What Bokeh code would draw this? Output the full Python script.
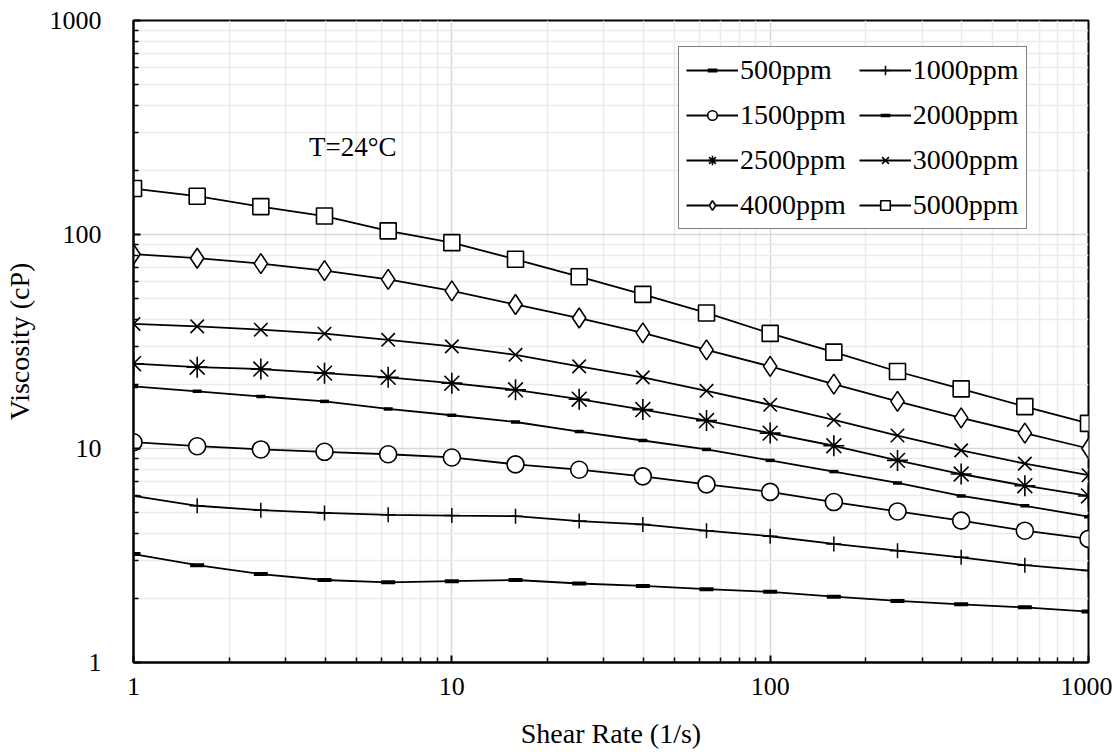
from bokeh.plotting import figure
from bokeh.models import Range1d, FixedTicker, NumeralTickFormatter, Legend, LegendItem, Label
from bokeh.embed import file_html
from bokeh.resources import INLINE

shear = [1, 1.585, 2.512, 3.981, 6.31, 10, 15.85, 25.12, 39.81, 63.1, 100, 158.5, 251.2, 398.1, 631, 1000]

v500 = [3.21, 2.85, 2.59, 2.43, 2.37, 2.40, 2.43, 2.34, 2.28, 2.20, 2.14, 2.03, 1.94, 1.87, 1.81, 1.73]
v1000 = [6.0, 5.4, 5.15, 5.0, 4.9, 4.86, 4.83, 4.58, 4.42, 4.13, 3.89, 3.58, 3.33, 3.10, 2.85, 2.69]
v1500 = [10.7, 10.25, 9.9, 9.65, 9.4, 9.08, 8.43, 7.96, 7.41, 6.80, 6.27, 5.62, 5.08, 4.60, 4.13, 3.78]
v2000 = [19.5, 18.5, 17.5, 16.6, 15.3, 14.3, 13.3, 12.0, 10.9, 9.9, 8.8, 7.8, 6.9, 6.0, 5.4, 4.8]
v2500 = [24.9, 24.0, 23.5, 22.5, 21.5, 20.2, 18.8, 17.0, 15.2, 13.5, 11.8, 10.3, 8.8, 7.6, 6.7, 6.0]
v3000 = [38.2, 37.2, 35.9, 34.4, 32.2, 30.0, 27.4, 24.2, 21.5, 18.6, 16.0, 13.6, 11.5, 9.8, 8.5, 7.5]
v4000 = [80.9, 77.5, 73.1, 67.8, 61.7, 54.5, 47.1, 40.7, 34.7, 28.9, 24.2, 20.0, 16.6, 13.9, 11.8, 10.0]
v5000 = [164, 151, 135, 122, 104, 91.6, 76.6, 63.5, 52.5, 43.0, 34.5, 28.2, 22.9, 19.0, 15.7, 13.1]

series_names = ["500ppm", "1000ppm", "1500ppm", "2000ppm", "2500ppm", "3000ppm", "4000ppm", "5000ppm"]
series_values = [v500, v1000, v1500, v2000, v2500, v3000, v4000, v5000]

major_ticks = [1, 10, 100, 1000]
minor_ticks = [2, 3, 4, 5, 6, 7, 8, 9, 20, 30, 40, 50, 60, 70, 80, 90,
               200, 300, 400, 500, 600, 700, 800, 900]

annotation_text = "T=24°C"
annotation_x = 3.56
annotation_y = 256

FONT = "serif"

p = figure(width=1112, height=756, x_axis_type="log", y_axis_type="log",
           x_range=Range1d(1, 1000), y_range=Range1d(1, 1000),
           output_backend="svg", toolbar_location=None,
           min_border_left=131, min_border_right=24, min_border_top=20, min_border_bottom=94)

p.background_fill_color = "white"
p.border_fill_color = "white"
p.outline_line_color = "black"
p.outline_line_width = 2

for ax in (p.xaxis[0], p.yaxis[0]):
    ax.ticker = FixedTicker(ticks=major_ticks, minor_ticks=minor_ticks)
    ax.formatter = NumeralTickFormatter(format="0")
    ax.axis_line_color = "black"
    ax.axis_line_width = 2
    ax.major_tick_in = 7
    ax.major_tick_out = 0
    ax.minor_tick_in = 5
    ax.minor_tick_out = 0
    ax.major_tick_line_width = 2
    ax.minor_tick_line_width = 1.5
    ax.major_tick_line_color = "black"
    ax.minor_tick_line_color = "black"
    ax.major_label_text_font = FONT
    ax.major_label_text_font_size = "26px"
    ax.major_label_text_color = "black"
    ax.axis_label_text_font = FONT
    ax.axis_label_text_font_size = "28px"
    ax.axis_label_text_font_style = "normal"
    ax.axis_label_text_color = "black"

p.xaxis.axis_label = "Shear Rate (1/s)"
p.yaxis.axis_label = "Viscosity (cP)"
p.xaxis.major_label_standoff = 15
p.xaxis.axis_label_standoff = 20
p.yaxis.major_label_standoff = 32
p.yaxis.axis_label_standoff = 12

for g in (p.xgrid[0], p.ygrid[0]):
    g.grid_line_color = "#d9d9d9"
    g.grid_line_width = 1.5
    g.minor_grid_line_color = "#ebebeb"
    g.minor_grid_line_width = 1.5

marker_styles = [
    dict(marker="dash", size=14, line_width=4, fill_color="black"),
    dict(marker="cross", size=15, line_width=1.5, fill_color=None),
    dict(marker="circle", size=17, line_width=1.6, fill_color="white"),
    dict(marker="dash", size=9, line_width=3.5, fill_color="black"),
    dict(marker="asterisk", size=21, line_width=1.6, fill_color=None),
    dict(marker="x", size=19, line_width=1.6, fill_color=None),
    dict(marker="diamond", size=20, line_width=1.6, fill_color="white"),
    dict(marker="square", size=16, line_width=1.6, fill_color="white"),
]

items = []
for name, vals, ms in zip(series_names, series_values, marker_styles):
    lr = p.line(shear, vals, line_color="black", line_width=1.8)
    sr = p.scatter(shear, vals, line_color="black", **ms)
    items.append(LegendItem(label=name, renderers=[lr, sr]))

legend = Legend(items=items, orientation="horizontal", ncols=2,
                location=(545, 433))
legend.label_text_font = FONT
legend.label_text_font_size = "28px"
legend.label_text_color = "black"
legend.glyph_width = 52
legend.glyph_height = 24
legend.label_standoff = 2
legend.spacing = 13
legend.padding = 7
legend.margin = 0
legend.border_line_color = "black"
legend.border_line_width = 1.5
legend.background_fill_color = "white"
legend.background_fill_alpha = 1.0
p.add_layout(legend, "center")

p.add_layout(Label(x=annotation_x, y=annotation_y, text=annotation_text,
                   text_font=FONT, text_font_size="27px", text_color="black",
                   text_baseline="middle", text_align="left"))

open("out.html", "w").write(file_html(p, INLINE))
